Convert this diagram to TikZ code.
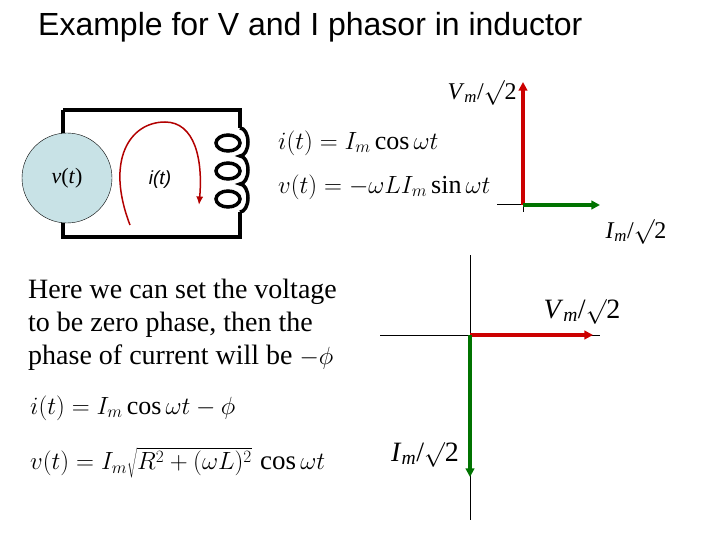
\documentclass[tikz,border=0pt]{standalone}
\usepackage{fontspec}
\setmainfont{Liberation Serif}
\newfontfamily\arial{Liberation Sans}
\usetikzlibrary{arrows.meta}
\definecolor{srcfill}{RGB}{200,226,230}
\tikzset{%
  >={Triangle[width=3mm,length=3mm]},
  % styles
  wire/.style = {line width=3.5pt, black},
  axis/.style = {line width=1pt, black},
  vphasor/.style = {line width=3.5pt, red!80!black, ->},
  iphasor/.style = {line width=3.5pt, green!45!black, ->},
  eq/.style = {anchor=west, inner sep=0pt, font=\fontsize{26}{30}\selectfont},
  lbl/.style = {inner sep=0pt},
}
\begin{document}
\begin{tikzpicture}[x=1pt, y=-1pt]
  \useasboundingbox (0,0) rectangle (720,540);
  % title
  \node (title) [anchor=west, inner sep=0pt, font=\arial\fontsize{32}{36}\selectfont] at (38,27) {Example for V and I phasor in inductor};

  % circuit
  \coordinate (tl) at (63,110);
  \coordinate (tr) at (240,110);
  \coordinate (br) at (240,237);
  \coordinate (bl) at (63,237);
  \draw[wire] (tl) -- (tr) -- (240,128);
  \draw[wire] (240,212) -- (br) -- (bl) -- (tl);
  \draw[wire] (240,128) arc[start angle=-90, end angle=90, x radius=8, y radius=14]
     arc[start angle=-90, end angle=90, x radius=8, y radius=14]
     arc[start angle=-90, end angle=90, x radius=8, y radius=14];
  \foreach \yy in {143,171,199}
    \draw[wire] (228,\yy) ellipse[x radius=12, y radius=8];
  \node (src) [circle, draw=black, fill=srcfill, minimum size=90pt, inner sep=0pt,
     font=\fontsize{22}{24}\selectfont] at (67,178) {\textit{v}(\textit{t})};
  \node (cur) [inner sep=0pt, font=\arial\itshape\fontsize{19}{22}\selectfont] at (160,180) {i(t)};
  \draw[line width=1.5pt, red!70!black, -{Latex[length=3mm,width=2.5mm]}]
     (130,225) .. controls (105,160) and (130,122) .. (165,122)
     .. controls (195,122) and (203,160) .. (199,205);
  \node (eq1) [eq] at (278,143) {$i(t)=I_m\cos\omega t$};
  \node (eq2) [eq] at (278,187) {$v(t)=-\omega L I_m\sin\omega t$};

  % phasor 1
  \coordinate (o1) at (523,205);
  \coordinate (v1) at (523,82);
  \coordinate (i1) at (600,205);
  \draw[axis] (497,205) -- (o1) -- (523,212);
  \draw[vphasor] (o1) -- (v1);
  \draw[iphasor] (o1) -- (i1);
  \node (lv1) [lbl, font=\fontsize{24}{26}\selectfont] at (482,93) {\textit{V}\textsubscript{\textit{m}}/$\surd$2};
  \node (li1) [lbl, font=\fontsize{24}{26}\selectfont] at (636,232) {\textit{I}\textsubscript{\textit{m}}/$\surd$2};

  % text
  \node (txt) [anchor=north west, inner sep=0pt, align=left, font=\fontsize{28}{33}\selectfont]
     at (28,279) {Here we can set the voltage\\to be zero phase, then the\\phase of current will be $-\phi$};
  \node (eq3) [eq] at (30,408) {$i(t)=I_m\cos\omega t-\phi$};
  \node (eq4) [eq, font=\fontsize{27}{30}\selectfont] at (30,463) {$v(t)=I_m\sqrt{R^2+(\omega L)^2}\,\cos\omega t$};

  % phasor 2
  \coordinate (o2) at (470,335);
  \draw[axis] (470,255) -- (470,520);
  \draw[axis] (380,335) -- (600,335);
  \draw[vphasor] (o2) -- (593,335);
  \draw[iphasor] (o2) -- (470,477);
  \node (lv2) [lbl, font=\fontsize{28}{30}\selectfont] at (582,312) {\textit{V}\textsubscript{\textit{m}}/$\surd$2};
  \node (li2) [lbl, font=\fontsize{28}{30}\selectfont] at (425,455) {\textit{I}\textsubscript{\textit{m}}/$\surd$2};
\end{tikzpicture}
\end{document}
